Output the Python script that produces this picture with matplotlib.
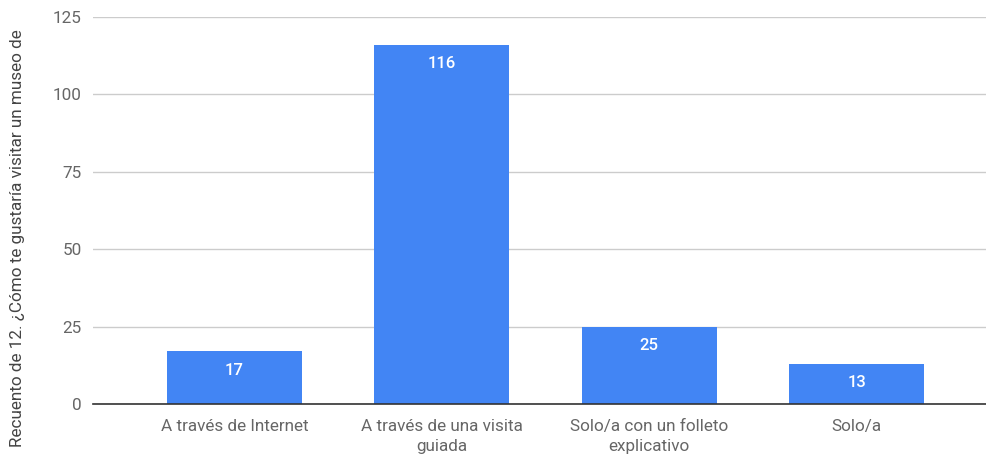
import matplotlib
matplotlib.use("Agg")
import matplotlib.pyplot as plt
import numpy as np

# data
categories = ["A través de Internet", "A través de una visita\nguiada",
              "Solo/a con un folleto\nexplicativo", "Solo/a"]
counts = [17, 116, 25, 13]
y_ticks = [0, 25, 50, 75, 100, 125]
y_label = "Recuento de 12. ¿Cómo te gustaría visitar un museo de"

plt.rcParams['font.family'] = ['Roboto', 'DejaVu Sans']

fig = plt.figure(figsize=(9.86, 4.55), dpi=100)
ax = fig.add_axes([93 / 986, 51 / 455, 893 / 986, 387 / 455])

x = np.arange(len(categories))
bars = ax.bar(x, counts, width=0.65, color='#4285f4', zorder=3)

for rect, v in zip(bars, counts):
    ax.annotate(str(v), (rect.get_x() + rect.get_width() / 2, rect.get_height()),
                xytext=(0, -13.5), textcoords='offset points', ha='center', va='center',
                color='white', fontsize=12, fontweight='medium', zorder=4)

ax.set_xlim(-0.682, 3.624)
ax.set_ylim(0, 125)
ax.set_yticks(y_ticks)
ax.set_xticks(x)
ax.set_xticklabels(categories, color='#666666', fontsize=12.3, linespacing=1.45)
ax.tick_params(axis='y', length=0, pad=8, labelcolor='#666666', labelsize=12.3)
ax.tick_params(axis='x', length=0, pad=10.5)

ax.grid(axis='y', color='#cccccc', linewidth=1, zorder=0)
for s in ['top', 'right', 'left']:
    ax.spines[s].set_visible(False)
ax.spines['bottom'].set_color('#333333')
ax.spines['bottom'].set_linewidth(1.2)
ax.spines['bottom'].set_zorder(5)

fig.text(18 / 986, 8 / 455, y_label, rotation=90, ha='center', va='bottom',
         color='#444444', fontsize=12.3)

fig.savefig('out.png', dpi=100)
